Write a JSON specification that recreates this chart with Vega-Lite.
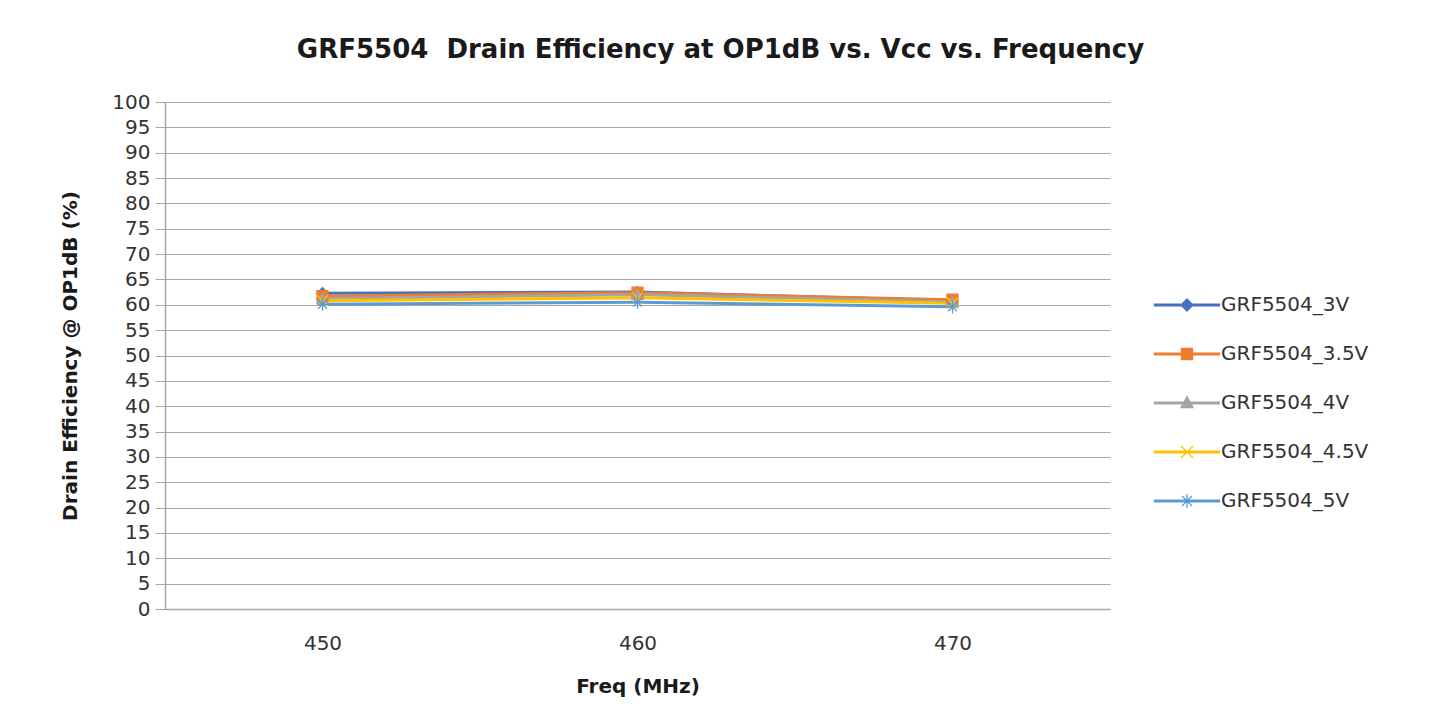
{
  "$schema": "https://vega.github.io/schema/vega-lite/v6.json",
  "width": 945,
  "height": 507,
  "autosize": {"type": "none"},
  "padding": {"left": 165, "top": 102, "right": 330, "bottom": 119},
  "background": "white",
  "config": {
    "font": "DejaVu Sans",
    "view": {"stroke": null}
  },
  "title": {
    "text": "GRF5504\u00a0 Drain Efficiency at OP1dB vs. Vcc vs. Frequency",
    "font": "DejaVu Sans",
    "fontSize": 26,
    "fontWeight": "bold",
    "color": "#1a1a1a",
    "anchor": "middle",
    "dx": 83,
    "offset": 29
  },
  "data": {
    "values": [
      {"freq": 450, "series": "GRF5504_3V", "eff": 62.3},
      {"freq": 460, "series": "GRF5504_3V", "eff": 62.5},
      {"freq": 470, "series": "GRF5504_3V", "eff": 60.8},
      {"freq": 450, "series": "GRF5504_3.5V", "eff": 61.7},
      {"freq": 460, "series": "GRF5504_3.5V", "eff": 62.4},
      {"freq": 470, "series": "GRF5504_3.5V", "eff": 61.0},
      {"freq": 450, "series": "GRF5504_4V", "eff": 61.2},
      {"freq": 460, "series": "GRF5504_4V", "eff": 62.0},
      {"freq": 470, "series": "GRF5504_4V", "eff": 60.6},
      {"freq": 450, "series": "GRF5504_4.5V", "eff": 60.8},
      {"freq": 460, "series": "GRF5504_4.5V", "eff": 61.4},
      {"freq": 470, "series": "GRF5504_4.5V", "eff": 60.3},
      {"freq": 450, "series": "GRF5504_5V", "eff": 60.1},
      {"freq": 460, "series": "GRF5504_5V", "eff": 60.5},
      {"freq": 470, "series": "GRF5504_5V", "eff": 59.6}
    ]
  },
  "encoding": {
    "x": {
      "field": "freq",
      "type": "ordinal",
      "scale": {"type": "point", "padding": 0.5},
      "axis": {
        "title": "Freq (MHz)",
        "titleFont": "DejaVu Sans",
        "titleFontSize": 20,
        "titleFontWeight": "bold",
        "titleColor": "#1a1a1a",
        "titlePadding": 23,
        "labelAngle": 0,
        "labelFont": "DejaVu Sans",
        "labelFontSize": 20,
        "labelColor": "#333333",
        "labelPadding": 24,
        "ticks": false,
        "domainColor": "#a6a6a6",
        "domainWidth": 1.5,
        "grid": false
      }
    },
    "y": {
      "field": "eff",
      "type": "quantitative",
      "scale": {"domain": [0, 100], "nice": false},
      "axis": {
        "title": "Drain Efficiency @ OP1dB (%)",
        "titleFont": "DejaVu Sans",
        "titleFontSize": 20,
        "titleFontWeight": "bold",
        "titleColor": "#1a1a1a",
        "titlePadding": 31,
        "values": [0,5,10,15,20,25,30,35,40,45,50,55,60,65,70,75,80,85,90,95,100],
        "labelFont": "DejaVu Sans",
        "labelFontSize": 20,
        "labelColor": "#333333",
        "labelPadding": 5,
        "tickSize": 10,
        "tickColor": "#a6a6a6",
        "domainColor": "#a6a6a6",
        "domainWidth": 1.5,
        "gridColor": "#a6a6a6",
        "gridWidth": 1
      }
    }
  },
  "layer": [
    {
      "mark": {"type": "line", "strokeWidth": 3},
      "encoding": {
        "color": {
          "field": "series",
          "type": "nominal",
          "sort": ["GRF5504_3V", "GRF5504_3.5V", "GRF5504_4V", "GRF5504_4.5V", "GRF5504_5V"],
          "scale": {
            "domain": ["GRF5504_3V", "GRF5504_3.5V", "GRF5504_4V", "GRF5504_4.5V", "GRF5504_5V"],
            "range": ["#4472c4", "#ed7d31", "#a5a5a5", "#ffc000", "#5b9bd5"]
          },
          "legend": {
            "title": null,
            "orient": "none",
            "legendX": 1011,
            "legendY": 192,
            "symbolType": "M-3.25,-0.09L3.25,-0.09L3.25,0.09L-3.25,0.09Z",
            "symbolSize": 400,
            "symbolStrokeWidth": 1.3,
            "labelFont": "DejaVu Sans",
            "labelFontSize": 20,
            "labelColor": "#333333",
            "rowPadding": 28,
            "labelOffset": 23,
            "padding": 0,
            "encode": {
              "symbols": {
                "update": {
                  "shape": {"signal": "datum.value === 'GRF5504_3V' ? 'M-3.25,-0.09L3.25,-0.09L3.25,0.09L-3.25,0.09Z M-0.6,0L0,-0.6L0.6,0L0,0.6Z' : datum.value === 'GRF5504_3.5V' ? 'M-3.25,-0.09L3.25,-0.09L3.25,0.09L-3.25,0.09Z M-0.55,-0.55L0.55,-0.55L0.55,0.55L-0.55,0.55Z' : datum.value === 'GRF5504_4V' ? 'M-3.25,-0.09L3.25,-0.09L3.25,0.09L-3.25,0.09Z M0,-0.65L0.6,0.45L-0.6,0.45Z' : datum.value === 'GRF5504_4.5V' ? 'M-3.25,-0.09L3.25,-0.09L3.25,0.09L-3.25,0.09Z M-0.6,-0.6L0.6,0.6M-0.6,0.6L0.6,-0.6' : 'M-3.25,-0.09L3.25,-0.09L3.25,0.09L-3.25,0.09Z M-0.65,0L0.65,0M0,-0.7L0,0.7M-0.5,-0.5L0.5,0.5M-0.5,0.5L0.5,-0.5'"},
                  "fill": {"scale": "color", "field": "value"},
                  "stroke": {"scale": "color", "field": "value"},
                  "strokeWidth": {"value": 1.3},
                  "opacity": {"value": 1}
                }
              }
            }
          }
        }
      }
    },
    {
      "mark": {"type": "point", "filled": true, "size": 120, "strokeWidth": 1.3, "opacity": 1},
      "encoding": {
        "color": {
          "field": "series",
          "type": "nominal",
          "scale": {
            "domain": ["GRF5504_3V", "GRF5504_3.5V", "GRF5504_4V", "GRF5504_4.5V", "GRF5504_5V"],
            "range": ["#4472c4", "#ed7d31", "#a5a5a5", "#ffc000", "#5b9bd5"]
          },
          "legend": null
        },
        "shape": {
          "field": "series",
          "type": "nominal",
          "scale": {
            "domain": ["GRF5504_3V", "GRF5504_3.5V", "GRF5504_4V", "GRF5504_4.5V", "GRF5504_5V"],
            "range": ["diamond", "square", "triangle-up", "M-1,-1L1,1M-1,1L1,-1", "M-1,0L1,0M0,-1.2L0,1.2M-0.8,-0.8L0.8,0.8M-0.8,0.8L0.8,-0.8"]
          },
          "legend": null
        },
        "stroke": {
          "field": "series",
          "type": "nominal",
          "scale": {
            "domain": ["GRF5504_3V", "GRF5504_3.5V", "GRF5504_4V", "GRF5504_4.5V", "GRF5504_5V"],
            "range": ["#4472c4", "#ed7d31", "#a5a5a5", "#ffc000", "#5b9bd5"]
          },
          "legend": null
        }
      }
    }
  ],
  "resolve": {"legend": {"color": "independent"}}
}
